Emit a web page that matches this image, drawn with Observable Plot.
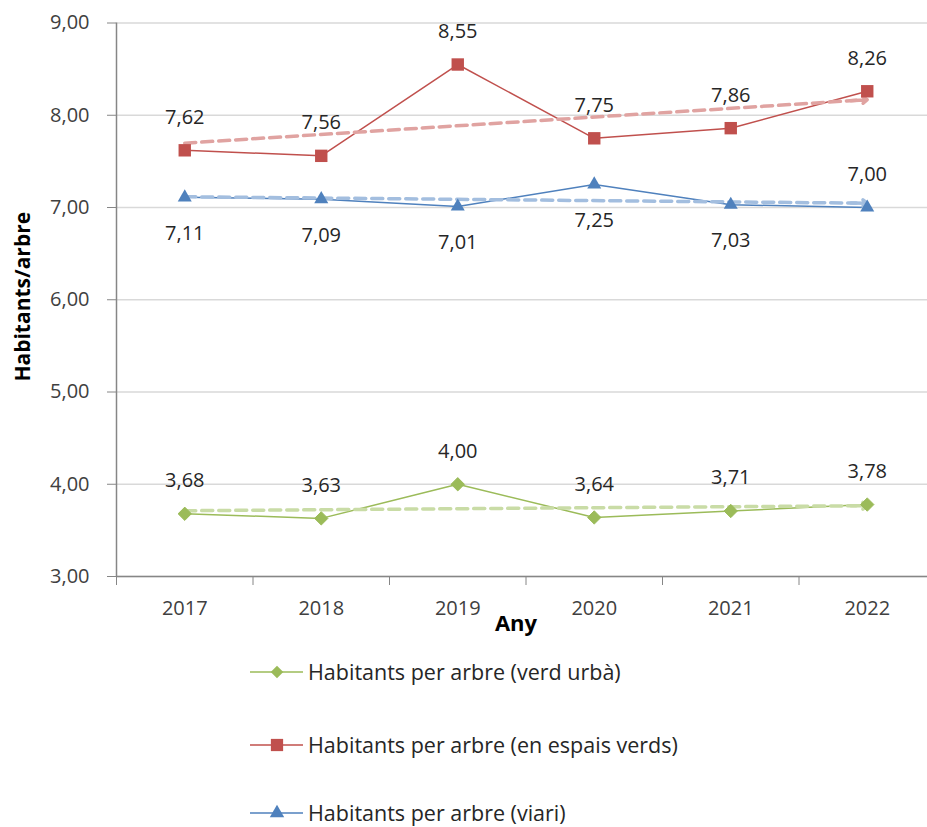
<!DOCTYPE html>
<html>
<head>
<meta charset="utf-8">
<script src="https://cdn.jsdelivr.net/npm/d3@7"></script>
<script src="https://cdn.jsdelivr.net/npm/@observablehq/plot@0.6"></script>
<style>
  html, body { margin: 0; padding: 0; background: #fff; }
  body { width: 927px; height: 827px; overflow: hidden; font-family: "Open Sans", sans-serif; }
  #chart svg { display: block; }
  #legend { position: relative; height: 182px; }
  .row { position: absolute; left: 250px; height: 24px; line-height: 24px; display: flex; align-items: center; font-size: 21.5px; color: #262626; }
  .row svg { display: block; margin-right: 5px; }
</style>
</head>
<body>
<div id="chart"></div>
<div id="legend"></div>
<script>
// ---- data ----
const years = [2017, 2018, 2019, 2020, 2021, 2022];
const verdUrba = [3.68, 3.63, 4.00, 3.64, 3.71, 3.78];
const espaisVerds = [7.62, 7.56, 8.55, 7.75, 7.86, 8.26];
const viari = [7.11, 7.09, 7.01, 7.25, 7.03, 7.00];
const viariLabelPos = ["below", "below", "below", "below", "below", "above"];
const yTicks = [3, 4, 5, 6, 7, 8, 9];
const seriesNames = [
  "Habitants per arbre (verd urbà)",
  "Habitants per arbre (en espais verds)",
  "Habitants per arbre (viari)"
];
const colors = ["#9BBB59", "#C0504D", "#4F81BD"];
const trendColors = ["#c9dca6", "#e0a3a1", "#a3bedf"];

const seriesValues = [verdUrba, espaisVerds, viari];
const rows = seriesValues.flatMap((vals, s) =>
  vals.map((v, i) => ({ year: years[i], value: v, series: seriesNames[s], pos: s === 2 ? viariLabelPos[i] : "above" })));

// linear trend (as the spreadsheet's trendline) computed from the data
function trend(vals) {
  const n = vals.length, xs = years;
  const mx = d3.mean(xs), my = d3.mean(vals);
  let sxy = 0, sxx = 0;
  for (let i = 0; i < n; i++) { sxy += (xs[i] - mx) * (vals[i] - my); sxx += (xs[i] - mx) ** 2; }
  const b = sxy / sxx, a = my - b * mx;
  return x => a + b * x;
}
const trendRows = [], headRows = [];
seriesValues.forEach((vals, s) => {
  const f = trend(vals);
  const x0 = years[0], x1 = years[years.length - 1];
  trendRows.push({ year: x0, value: f(x0), series: seriesNames[s] });
  trendRows.push({ year: x1 - 0.08, value: f(x1 - 0.08), series: seriesNames[s] });
  headRows.push({ xa: x1 - 0.12, ya: f(x1 - 0.12), xb: x1, yb: f(x1), series: seriesNames[s] });
});

const fmt = d => d.toFixed(2).replace(".", ",");
const boundaries = years.map(y => y - 0.5).concat([years[years.length - 1] + 0.5]);

const width = 927, height = 645;
const chart = Plot.plot({
  width, height,
  marginLeft: 116, marginRight: 0, marginTop: 22.5, marginBottom: 69,
  style: { fontFamily: "Open Sans, sans-serif", fontSize: "20px", color: "#404040", background: "#fff" },
  x: { type: "linear", domain: [years[0] - 0.5, years[years.length - 1] + 0.5], range: [116, 935] },
  y: { domain: [3, 9] },
  color: { domain: seriesNames, range: colors },
  marks: [
    Plot.gridY(yTicks, { stroke: "#d9d9d9", strokeOpacity: 1, strokeWidth: 1.3 }),
    Plot.axisY(yTicks, { tickFormat: fmt, tickSize: 9, tickPadding: 18, label: null, stroke: "#868686", fill: "#404040", fontSize: 20 }),
    Plot.axisX(boundaries, { tickFormat: () => "", tickSize: 9, label: null, stroke: "#868686" }),
    Plot.axisX(years, { tickFormat: d => String(d), tickSize: 0, tickPadding: 24, label: null, fill: "#404040", fontSize: 20 }),
    Plot.ruleX([years[0] - 0.5], { stroke: "#868686", strokeWidth: 1.5 }),
    Plot.ruleY([3], { stroke: "#868686", strokeWidth: 1.5 }),
    Plot.text(["Any"], { frameAnchor: "bottom", dy: 54, dx: -6, fontWeight: "bold", fontSize: 22, fill: "#000" }),
    Plot.text(["Habitants/arbre"], { frameAnchor: "left", textAnchor: "middle", dx: -93, dy: -3, rotate: -90, fontWeight: "bold", fontSize: 21, fill: "#000" }),
    // series lines
    Plot.line(rows, { x: "year", y: "value", z: "series", stroke: "series", strokeWidth: 1.5 }),
    // trend lines
    Plot.line(trendRows, { x: "year", y: "value", z: "series", stroke: d => trendColors[seriesNames.indexOf(d.series)], strokeWidth: 3.5, strokeDasharray: "11,6" }),
    Plot.arrow(headRows, { x1: "xa", y1: "ya", x2: "xb", y2: "yb", stroke: d => trendColors[seriesNames.indexOf(d.series)], strokeWidth: 3.5, headLength: 15, headAngle: 75 }),
    // markers
    Plot.dot(rows.filter(d => d.series === seriesNames[0]), { x: "year", y: "value", symbol: "diamond2", r: 6, fill: colors[0], stroke: colors[0], strokeWidth: 1 }),
    Plot.dot(rows.filter(d => d.series === seriesNames[1]), { x: "year", y: "value", symbol: "square", r: 7, fill: colors[1], stroke: null }),
    Plot.dot(rows.filter(d => d.series === seriesNames[2]), { x: "year", y: "value", symbol: "triangle", r: 5.2, fill: colors[2], stroke: null }),
    // data labels
    Plot.text(rows.filter(d => d.pos === "above"), { x: "year", y: "value", text: d => fmt(d.value), dy: -33, fontSize: 20, fill: "#262626" }),
    Plot.text(rows.filter(d => d.pos === "below"), { x: "year", y: "value", text: d => fmt(d.value), dy: 36, fontSize: 20, fill: "#262626" })
  ]
});
document.getElementById("chart").appendChild(chart);

// legend
const legend = d3.select("#legend");
const symbols = [d3.symbolDiamond2, d3.symbolSquare, d3.symbolTriangle];
const sizes = [100, 150, 90];
const rowTops = [15, 88, 156];
seriesNames.forEach((name, i) => {
  const row = legend.append("div").attr("class", "row").style("top", rowTops[i] + "px");
  const s = row.append("svg").attr("width", 53).attr("height", 24);
  s.append("line").attr("x1", 0).attr("x2", 53).attr("y1", 12).attr("y2", 12).attr("stroke", colors[i]).attr("stroke-width", 1.5);
  s.append("path").attr("transform", "translate(27,12)").attr("d", d3.symbol(symbols[i], sizes[i])()).attr("fill", colors[i]);
  row.append("span").text(name);
});
</script>
</body>
</html>
